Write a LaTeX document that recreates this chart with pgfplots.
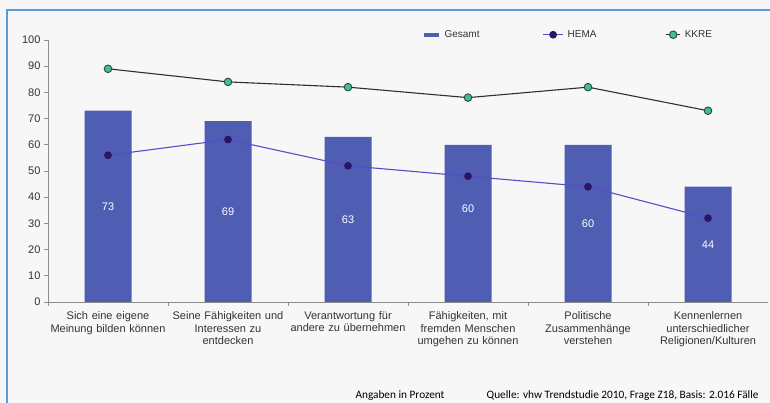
\documentclass[border=0pt]{standalone}
\usepackage{pgfplots}
\pgfplotsset{compat=1.18}
\usepackage{pgfplotstable}
\usepackage{fontspec}
\setmainfont{Liberation Sans}
\newfontfamily\footfont{Carlito}

\definecolor{bgc}{HTML}{F7F7F7}
\definecolor{framec}{HTML}{5B9BD5}
\definecolor{barc}{HTML}{4F5DB3}
\definecolor{hemal}{HTML}{5A4BC8}
\definecolor{hemam}{HTML}{2B1666}
\definecolor{kkrel}{HTML}{2F2F2F}
\definecolor{kkrem}{HTML}{3FBF8F}
\definecolor{axc}{HTML}{8C8C8C}
\definecolor{txt}{HTML}{333333}

\pgfplotsset{
  barleg/.style={legend image code/.code={\draw[barc, line width=4pt] (0pt,0pt) -- (15pt,0pt);}},
  hemaleg/.style={legend image code/.code={\draw[mark repeat=2, mark phase=2, ##1] plot coordinates {(0pt,0pt) (10pt,0pt) (20pt,0pt)};}},
  kkreleg/.style={legend image code/.code={\draw[mark repeat=2, mark phase=2, ##1] plot coordinates {(0pt,0pt) (7pt,0pt) (14pt,0pt)};}},
}

% x: category index, gesamt/hema/kkre: percentages, labely: height of the value label
\pgfplotstableread{
x gesamt hema kkre labely
0 73 56 89 36.5
1 69 62 84 34.5
2 63 52 82 31.5
3 60 48 78 35.5
4 60 44 82 30
5 44 32 73 22
}\datatable

\begin{document}
\begin{tikzpicture}
\useasboundingbox (0,0) rectangle (770pt,403pt);
\fill[bgc] (0,0) rectangle (770pt,403pt);
\draw[framec, line width=2pt] (7pt,0) -- (7pt,393pt) -- (770pt,393pt);
\begin{axis}[
  at={(48pt,101pt)}, anchor=south west,
  scale only axis, width=720pt, height=262pt,
  xmin=-0.5, xmax=5.5, ymin=0, ymax=100,
  axis x line*=bottom, axis y line*=left,
  axis line style={axc, line width=0.6pt},
  ytick={0,10,...,100},
  xtick={0,...,5},
  xticklabels={
    {Sich eine eigene\\Meinung bilden können},
    {Seine Fähigkeiten und\\Interessen zu\\entdecken},
    {Verantwortung für\\andere zu übernehmen},
    {Fähigkeiten, mit\\fremden Menschen\\umgehen zu können},
    {Politische\\Zusammenhänge\\verstehen},
    {Kennenlernen\\unterschiedlicher\\Religionen/Kulturen}},
  major x tick style={draw=none},
  minor xtick={-0.5,0.5,...,4.5},
  tick align=outside,
  major tick length=4pt, minor tick length=4pt,
  tick style={axc, line width=0.6pt},
  tick label style={font=\fontsize{11}{12.5}\selectfont, text=txt},
  xticklabel style={align=center, text width=120pt, yshift=-2pt},
  /pgf/number format/assume math mode=true,
  legend columns=3,
  legend cell align=left,
  legend style={draw=none, fill=none, at={(0.5144,1.02)}, anchor=west,
    font=\fontsize{10}{12}\selectfont, text=txt,
    nodes={text width=94pt, inner xsep=4pt},
    /tikz/every even column/.append style={column sep=0pt}},
]
\addplot[ybar, bar width=47pt, fill=barc, draw=none, barleg]
  table[x=x, y=gesamt] {\datatable};
\addlegendentry{Gesamt}
\addplot[hemal, line width=1.1pt, mark=*, mark size=3.3pt,
  mark options={fill=hemam, draw=hemam}, hemaleg]
  table[x=x, y=hema] {\datatable};
\addlegendentry{HEMA}
\addplot[kkrel, line width=1.1pt, mark=*, mark size=3.8pt,
  mark options={fill=kkrem, draw=kkrel!85!kkrem, line width=0.9pt}, kkreleg]
  table[x=x, y=kkre] {\datatable};
\addlegendentry{KKRE}
% value labels inside the bars
\addplot[draw=none, mark=none, forget plot,
  nodes near coords, point meta=explicit,
  every node near coord/.append style={anchor=center, text=white,
    font=\fontsize{11}{12}\selectfont}]
  table[x=x, y=labely, meta=gesamt] {\datatable};
\end{axis}
\node[anchor=base west, font=\footfont\fontsize{11.3}{12}\selectfont, text=black] at (352pt,4pt) {Angaben in Prozent};
\node[anchor=base east, font=\footfont\fontsize{11.3}{12}\selectfont, text=black] at (762pt,4pt) {Quelle: vhw Trendstudie 2010, Frage Z18, Basis: 2.016 Fälle};
\end{tikzpicture}
\end{document}
